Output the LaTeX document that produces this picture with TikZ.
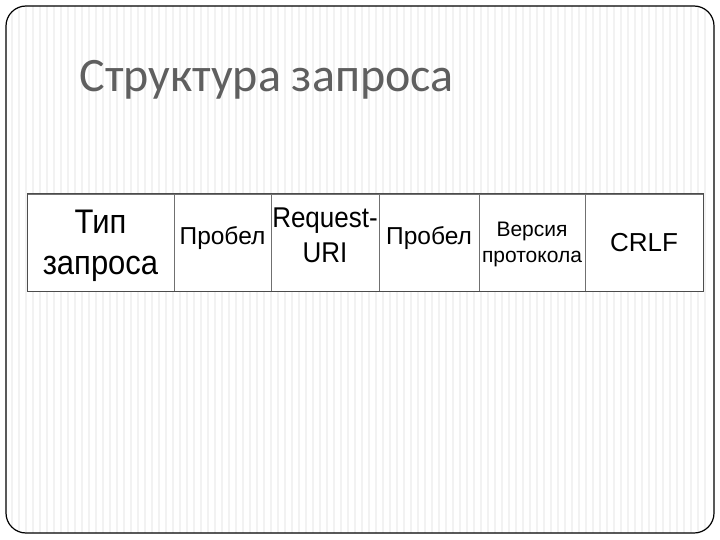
\documentclass[tikz,border=0pt]{standalone}
\usepackage{fontspec}
\setmainfont{Liberation Sans}
\newfontfamily\titlefont{Carlito}
\usetikzlibrary{positioning}
\definecolor{tcolor}{HTML}{5F5F5F}
\definecolor{lcolor}{HTML}{707070}
\newcommand{\vs}[1]{\scalebox{1}[1.1]{#1}}

\begin{document}
\begin{tikzpicture}[x=1pt, y=-1pt,
    cell/.style={rectangle, draw=lcolor, line width=0.9pt, outer sep=0pt, inner sep=0pt, minimum height=97pt, align=center, fill=white, text depth=0pt},
    big/.style={font=\fontsize{31}{41}\selectfont},
    mid/.style={font=\fontsize{26}{35}\selectfont},
    gap/.style={font=\fontsize{24.5}{28}\selectfont, text depth=13pt},
    small/.style={font=\fontsize{21}{26}\selectfont},
  ]
    \useasboundingbox (0,0) rectangle (720,540);
    \fill[white] (0,0) rectangle (720,540);
    % striped slide background
    \begin{scope}
      \clip[rounded corners=20pt] (6,6) rectangle (714,533);
      \foreach \sx in {12,19,...,710}
        \draw[black!5, line width=1.2pt] (\sx,6) -- (\sx,533);
    \end{scope}
    \draw[line width=1.2pt, rounded corners=20pt] (6,6) rectangle (714,533);

    \node[anchor=base west, text=tcolor, font=\titlefont\fontsize{48}{52}\selectfont] (title) at (76,92) {Структура запроса};

    \node[cell, big, minimum width=147pt] (tip) at (100.5,242.5) {\vs{Тип}\\\vs{запроса}};
    \node[cell, gap, minimum width=97pt, right=0pt of tip] (sp1) {Пробел};
    \node[cell, mid, minimum width=108pt, text depth=14pt, right=0pt of sp1] (uri) {\vs{Request-}\\\vs{URI}};
    \node[cell, gap, minimum width=100pt, right=0pt of uri] (sp2) {Пробел};
    \node[cell, small, minimum width=106pt, right=0pt of sp2] (ver) {Версия\\протокола};
    \node[cell, mid, minimum width=118pt, right=0pt of ver] (crlf) {CRLF};
    \draw[black!70, line width=1pt] (tip.north west) rectangle (crlf.south east);
  \end{tikzpicture}
\end{document}
